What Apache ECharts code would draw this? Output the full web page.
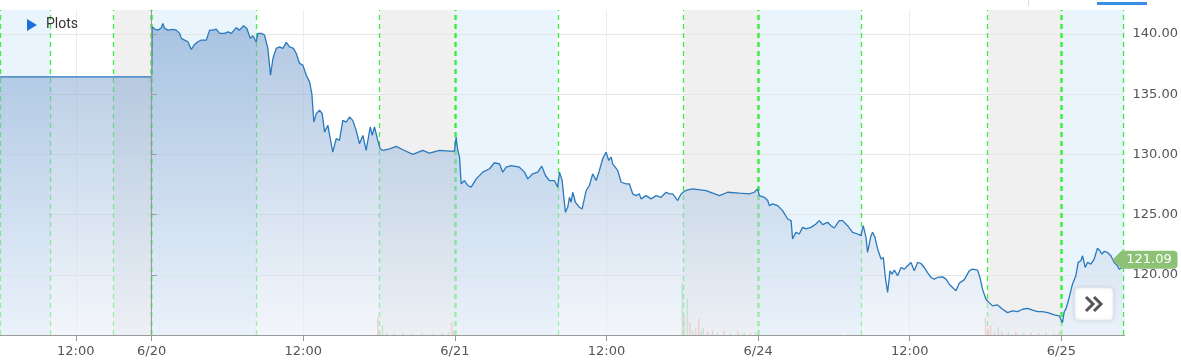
<!DOCTYPE html>
<html><head><meta charset="utf-8">
<script src="https://cdn.jsdelivr.net/npm/echarts@6/dist/echarts.min.js"></script>
<style>html,body{margin:0;padding:0;background:#fff}#c{width:1181px;height:362px}</style>
</head><body><div id="c"></div>
<script>
// ---- axis ranges and tick labels (x unit = hours of the compressed session timeline) ----
const xMin = -12, xMax = 77;
const yMin = 115, yMax = 142;
const xTickValues = [-6, 0, 12, 24, 36, 48, 60, 72];
const xTickLabels = ['12:00', '6/20', '12:00', '6/21', '12:00', '6/24', '12:00', '6/25'];
const yTickValues = [120, 125, 130, 135, 140];

// ---- session boundaries (hours) ----
const sessionBounds = [-12, -8, -3, 0, 8.3, 18.05, 24, 32.15, 42.1, 48, 56.2, 66.15, 72, 76.9];
const dayStarts = [0, 24, 48, 72];
const afterBands = [[-12, -8], [0, 8.3], [24, 32.15], [48, 56.2], [72, 77]];
const preBands = [[-3, 0], [18.05, 24], [42.1, 48], [66.15, 72]];

// ---- price series ----
const hours = [
  -12, 0, 0.04, 0.24, 0.50, 0.77, 0.89, 1.03, 1.29, 1.69,
  1.95, 2.22, 2.35, 2.61, 2.87, 3.14, 3.40, 3.66, 3.93, 4.33,
  4.59, 4.85, 5.12, 5.38, 5.77, 6.04, 6.31, 6.70, 6.96, 7.28,
  7.54, 7.81, 8.01, 8.28, 8.41, 8.68, 8.94, 9.20, 9.33, 9.41,
  9.60, 9.86, 10.13, 10.39, 10.66, 10.92, 11.23, 11.45, 11.71, 11.97,
  12.24, 12.50, 12.68, 12.84, 13.03, 13.29, 13.50, 13.69, 13.95, 14.14,
  14.34, 14.61, 14.87, 15.13, 15.40, 15.66, 15.92, 16.19, 16.45, 16.72,
  16.98, 17.30, 17.46, 17.64, 17.90, 18.09, 18.30, 18.83, 19.36, 19.88,
  20.67, 21.46, 21.99, 22.78, 23.57, 23.97, 24.10, 24.21, 24.37, 24.50,
  24.76, 25.02, 25.29, 25.69, 26.21, 26.74, 27.13, 27.53, 27.79, 28.06,
  28.46, 29.11, 29.51, 29.77, 30.16, 30.56, 30.88, 31.17, 31.48, 31.88,
  32.14, 32.28, 32.49, 32.75, 32.93, 33.07, 33.20, 33.33, 33.54, 33.86,
  34.07, 34.39, 34.65, 34.91, 35.18, 35.44, 35.70, 35.97, 36.18, 36.37,
  36.49, 36.89, 37.16, 37.55, 37.81, 38.08, 38.34, 38.60, 38.74, 39.13,
  39.53, 39.93, 40.32, 40.72, 40.98, 41.24, 41.64, 41.90, 42.17, 42.43,
  42.83, 43.88, 44.94, 45.59, 46.52, 47.31, 47.70, 47.96, 48.10, 48.49,
  48.76, 48.89, 49.15, 49.55, 49.94, 50.34, 50.61, 50.73, 51.00, 51.26,
  51.52, 51.79, 52.19, 52.58, 52.84, 53.11, 53.50, 53.77, 54.03, 54.42,
  54.69, 55.08, 55.48, 55.87, 56.14, 56.32, 56.54, 56.66, 56.80, 56.93,
  57.06, 57.25, 57.46, 57.73, 57.91, 58.07, 58.25, 58.44, 58.60, 58.78,
  59.04, 59.31, 59.57, 59.83, 60.10, 60.36, 60.62, 60.89, 61.15, 61.41,
  61.68, 61.94, 62.20, 62.60, 62.87, 63.13, 63.39, 63.66, 63.92, 64.32,
  64.71, 64.97, 65.37, 65.56, 65.76, 66.03, 66.29, 66.56, 66.95, 67.35,
  67.74, 68.14, 68.53, 68.93, 69.32, 69.72, 70.12, 70.51, 70.91, 71.44,
  71.83, 71.97, 72.09, 72.23, 72.36, 72.62, 72.88, 73.15, 73.33, 73.55,
  73.68, 73.89, 74.07, 74.34, 74.60, 74.86, 75.05, 75.21, 75.39, 75.65,
  75.92, 76.18, 76.44, 76.58, 76.84
];
const prices = [
  136.45, 136.45, 140.60, 140.42, 140.33, 140.53, 140.89, 140.47, 140.33, 140.39,
  140.33, 140.06, 139.64, 139.50, 139.36, 138.72, 139.14, 139.36, 139.50, 139.50,
  140.33, 140.33, 140.42, 140.06, 140.06, 140.19, 140.06, 140.53, 140.33, 140.69,
  140.47, 139.64, 139.86, 139.36, 140.06, 140.06, 139.92, 138.81, 137.42, 136.58,
  137.97, 138.81, 138.94, 138.81, 139.31, 138.94, 138.81, 138.39, 137.56, 137.42,
  136.58, 136.03, 135.06, 132.69, 133.39, 133.67, 133.39, 131.86, 132.42, 131.31,
  130.19, 131.31, 131.17, 132.83, 132.69, 133.11, 132.83, 132.00, 130.89, 131.58,
  130.33, 132.28, 131.58, 132.28, 131.17, 130.47, 130.33, 130.47, 130.67, 130.39,
  130.00, 130.33, 130.11, 130.33, 130.28, 130.28, 131.44, 130.47, 129.78, 127.56,
  127.83, 127.42, 127.28, 127.97, 128.53, 128.81, 129.31, 129.22, 128.53, 128.94,
  129.08, 128.94, 128.53, 127.97, 128.39, 128.53, 129.03, 128.25, 127.83, 127.83,
  127.28, 128.53, 127.83, 125.19, 125.61, 126.44, 126.03, 126.86, 126.03, 125.61,
  125.47, 127.00, 127.42, 128.39, 127.83, 128.67, 129.64, 130.19, 129.50, 129.78,
  129.22, 128.67, 127.69, 127.56, 127.56, 126.72, 126.58, 126.72, 126.31, 126.58,
  126.31, 126.58, 126.44, 126.86, 126.72, 126.72, 126.17, 126.72, 126.94, 127.06,
  127.14, 127.00, 126.58, 126.86, 126.78, 126.72, 126.86, 127.14, 126.58, 126.44,
  126.17, 125.75, 125.89, 125.75, 125.33, 124.64, 124.50, 122.97, 123.53, 123.39,
  123.94, 123.81, 123.94, 124.22, 124.50, 124.17, 124.36, 124.08, 123.89, 124.50,
  124.50, 124.08, 123.53, 123.39, 123.25, 124.08, 123.11, 121.86, 122.56, 123.25,
  123.53, 123.11, 122.14, 121.31, 121.44, 119.78, 118.53, 120.33, 120.06, 120.39,
  119.92, 120.61, 120.47, 120.75, 121.03, 120.33, 121.03, 120.94, 120.61, 120.19,
  119.78, 119.64, 119.78, 119.83, 119.64, 119.22, 118.94, 118.67, 119.30, 119.60,
  120.33, 120.47, 120.39, 119.78, 118.81, 117.97, 117.69, 117.42, 117.50, 117.14,
  116.86, 117.00, 116.94, 117.14, 117.22, 117.06, 116.94, 116.94, 116.86, 116.67,
  116.58, 116.72, 116.03, 116.94, 117.14, 118.11, 119.22, 119.92, 121.03, 121.17,
  121.58, 120.61, 121.03, 120.89, 121.31, 122.22, 122.00, 121.72, 121.94, 121.86,
  121.58, 121.03, 120.75, 120.47, 120.61
];
const lastPrice = 121.09;

// ---- volume (extended-hours bars) ----
const volHours = [17.9, 18.0, 18.27, 18.6, 19.2, 19.9, 20.6, 21.4, 22.2, 23.0, 23.5, 23.75, 23.9,
  42.0, 42.15, 42.4, 42.6, 42.8, 43.05, 43.3, 43.5, 43.65, 44.0, 44.4, 44.8, 45.3, 45.8, 46.4, 46.9, 47.4, 47.8,
  66.0, 66.2, 66.4, 66.7, 67.0, 67.3, 67.8, 68.4, 69.0, 69.6, 70.2, 70.8, 71.4, 71.8];
const volValues = [55, 12, 30, 8, 6, 8, 5, 6, 5, 6, 9, 40, 12,
  160, 60, 110, 38, 15, 20, 50, 12, 22, 10, 14, 8, 12, 6, 10, 8, 6, 9,
  52, 20, 30, 12, 25, 10, 8, 10, 6, 8, 6, 8, 5, 10];
const volUp = [0, 0, 1, 1, 0, 1, 0, 1, 0, 0, 1, 0, 0,
  1, 0, 1, 0, 1, 0, 0, 1, 1, 0, 0, 1, 0, 1, 0, 1, 0, 1,
  0, 0, 0, 0, 1, 0, 1, 0, 1, 0, 0, 1, 0, 0];

const FONT = '"DejaVu Sans", Verdana, sans-serif';
const chart = echarts.init(document.getElementById('c'), null, {renderer: 'canvas'});

const option = {
  animation: false,
  backgroundColor: '#ffffff',
  grid: {left: 0, right: 56, top: 10, bottom: 27, containLabel: false},
  xAxis: [
    { // main: line, ticks, labels
      type: 'value', min: xMin, max: xMax, z: 5,
      axisLine: {show: true, onZero: false, lineStyle: {color: '#9a9a9a', width: 1}},
      axisTick: {show: true, length: 6, customValues: xTickValues, lineStyle: {color: '#9a9a9a'}},
      axisLabel: {
        customValues: xTickValues, margin: 10, color: '#555', fontSize: 13, fontFamily: FONT,
        formatter: v => { const i = xTickValues.indexOf(v); return i >= 0 ? xTickLabels[i] : ''; }
      },
      splitLine: {show: false}
    },
    { // grid lines only, beneath the area
      type: 'value', min: xMin, max: xMax, z: 1,
      axisLine: {show: false}, axisLabel: {show: false},
      axisTick: {show: false, customValues: xTickValues},
      splitLine: {show: true, lineStyle: {color: '#ececec', width: 1}}
    }
  ],
  yAxis: [
    {
      type: 'value', position: 'right', min: yMin, max: yMax, z: 5,
      axisLine: {show: true, lineStyle: {color: '#9a9a9a', width: 1}},
      axisTick: {show: true, length: 5, customValues: yTickValues, lineStyle: {color: '#9a9a9a'}},
      axisLabel: {customValues: yTickValues, margin: 8, color: '#555', fontSize: 13, fontFamily: FONT,
        formatter: v => v.toFixed(2)},
      splitLine: {show: false}
    },
    {
      type: 'value', position: 'right', min: yMin, max: yMax, z: 1,
      axisLine: {show: false}, axisLabel: {show: false},
      axisTick: {show: false, customValues: yTickValues},
      splitLine: {show: true, lineStyle: {color: '#e6e6e6', width: 1}}
    },
    {
      type: 'value', min: 0, max: 1000, show: false,
      splitLine: {show: false}, axisLine: {show: false}
    }
  ],
  series: [
    { // session background bands
      type: 'line', xAxisIndex: 0, yAxisIndex: 0, z: 0, silent: true,
      data: [[xMin, yMin]], showSymbol: false, symbol: 'none', lineStyle: {width: 0, opacity: 0},
      markArea: {
        silent: true, z: 0.5,
        data: afterBands.map(b => [{xAxis: b[0], itemStyle: {color: '#eaf4fd'}}, {xAxis: b[1]}])
          .concat(preBands.map(b => [{xAxis: b[0], itemStyle: {color: '#f0f0f0'}}, {xAxis: b[1]}]))
      }
    },
    { // session boundary dashed lines
      type: 'line', xAxisIndex: 0, yAxisIndex: 0, z: 1.5, silent: true,
      data: [[xMin, yMin]], showSymbol: false, symbol: 'none', lineStyle: {width: 0, opacity: 0},
      markLine: {
        silent: true, z: 1.5, symbol: ['none', 'none'], label: {show: false},
        data: sessionBounds.map(v => ({
          xAxis: v,
          lineStyle: {color: '#3ef03e', type: [5, 4], width: dayStarts.includes(v) ? 2.5 : 1.3}
        }))
      }
    },
    { // volume
      type: 'bar', xAxisIndex: 0, yAxisIndex: 2, z: 1.8, silent: true, barWidth: 1.6,
      data: volHours.map((h, i) => ({
        value: [h, volValues[i]],
        itemStyle: {color: volUp[i] ? 'rgba(120,205,140,0.7)' : 'rgba(240,140,140,0.7)'}
      }))
    },
    { // price
      type: 'line', xAxisIndex: 0, yAxisIndex: 0, z: 2,
      data: hours.map((h, i) => [h, prices[i]]),
      showSymbol: false, symbol: 'none',
      lineStyle: {color: '#2a79bd', width: 1.3},
      areaStyle: {
        origin: 'start',
        color: new echarts.graphic.LinearGradient(0, 0, 0, 1, [
          {offset: 0, color: 'rgba(118,158,204,0.82)'},
          {offset: 1, color: 'rgba(234,240,248,0.8)'}
        ])
      },
      markPoint: {
        silent: true, z: 6,
        symbol: 'path://M0,9 L9,0 L61,0 Q65,0 65,4 L65,14 Q65,18 61,18 L9,18 Z',
        symbolSize: [65, 18], symbolKeepAspect: false,
        symbolOffset: [20.5, -2],
        itemStyle: {color: '#8cc176'},
        label: {show: true, position: 'inside', offset: [4, 0], color: '#fff', fontSize: 13, fontFamily: FONT,
          formatter: () => lastPrice.toFixed(2)},
        data: [{coord: [xMax, lastPrice], value: lastPrice}]
      }
    }
  ],
  graphic: [
    {type: 'polygon', z: 100, shape: {points: [[27, 19], [37, 25], [27, 31]]}, style: {fill: '#1b6fdc'}},
    {type: 'text', z: 100, left: 46, top: 17, style: {text: 'Plots', fill: '#333', font: '14px Roboto, "Liberation Sans", sans-serif'}},
    {type: 'rect', z: 100, shape: {x: 1097, y: 2, width: 50, height: 3}, style: {fill: '#3a8ee6'}},
    {type: 'rect', z: 100, shape: {x: 1028, y: 0, width: 1, height: 6}, style: {fill: '#dddddd'}},
    {type: 'rect', z: 100, shape: {x: 1075, y: 288, width: 38, height: 32, r: 4},
      style: {fill: '#ffffff', stroke: '#ececec', lineWidth: 1, shadowBlur: 4, shadowColor: 'rgba(0,0,0,0.12)'}},
    {type: 'polyline', z: 101, shape: {points: [[1086, 297], [1093, 304], [1086, 311]]}, style: {stroke: '#555', lineWidth: 3, fill: null}},
    {type: 'polyline', z: 101, shape: {points: [[1094, 297], [1101, 304], [1094, 311]]}, style: {stroke: '#555', lineWidth: 3, fill: null}}
  ]
};
chart.setOption(option);
</script>
</body></html>
